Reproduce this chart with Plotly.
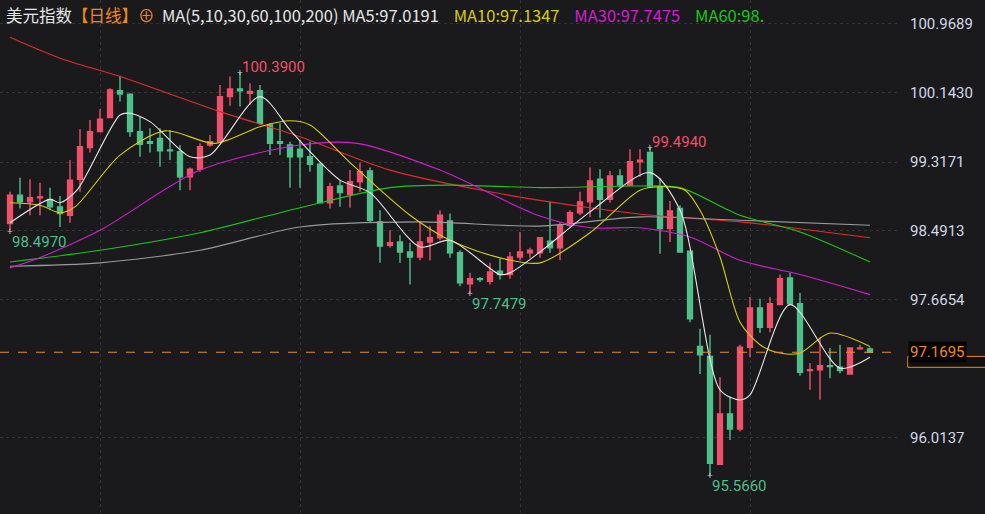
import plotly.graph_objects as go

# daily candles, index 1..87
opens = [98.58, 98.92, 98.84, 98.89, 98.87, 98.78, 98.68, 99.11, 99.49, 99.68,
         99.85, 100.17, 100.13, 99.68, 99.56, 99.60, 99.46, 99.44, 99.14, 99.23,
         99.52, 99.56, 100.10, 100.19, 100.14, 100.17, 99.76, 99.56, 99.52, 99.47,
         99.38, 99.29, 98.83, 99.03, 98.93, 99.08, 99.21, 98.60, 98.32, 98.36,
         98.24, 98.18, 98.36, 98.41, 98.61, 98.23, 97.86, 97.92, 97.89, 98.01,
         97.97, 98.18, 98.23, 98.23, 98.37, 98.29, 98.56, 98.71, 98.84, 99.11,
         98.87, 99.15, 99.04, 99.32, 99.43, 99.02, 98.52, 98.76, 98.25, 97.11,
         96.99, 95.70, 96.30, 96.12, 97.10, 97.57, 97.34, 97.61, 97.93, 97.62,
         96.82, 96.83, 96.88, 96.86, 96.78, 97.08, 97.08]
highs = [98.96, 99.13, 99.11, 99.07, 99.01, 98.91, 99.34, 99.71, 99.82, 99.95,
         100.20, 100.35, 100.14, 99.86, 99.72, 99.72, 99.70, 99.52, 99.25, 99.54,
         99.64, 100.24, 100.34, 100.39, 100.26, 100.24, 99.78, 99.78, 99.56, 99.58,
         99.56, 99.31, 99.07, 99.10, 99.22, 99.31, 99.25, 98.74, 98.50, 98.44,
         98.35, 98.60, 98.55, 98.74, 98.70, 98.26, 97.99, 97.94, 98.11, 98.16,
         98.24, 98.48, 98.29, 98.42, 98.84, 98.60, 98.74, 98.96, 99.25, 99.23,
         99.21, 99.23, 99.47, 99.47, 99.494, 99.13, 98.85, 98.80, 98.25, 97.32,
         97.25, 96.74, 96.51, 97.13, 97.70, 97.68, 97.70, 97.97, 97.99, 97.75,
         96.91, 97.22, 97.09, 97.13, 97.10, 97.13, 97.10]
lows = [98.497, 98.76, 98.68, 98.68, 98.74, 98.54, 98.59, 98.96, 99.43, 99.68,
        99.85, 100.04, 99.62, 99.38, 99.43, 99.26, 99.34, 98.98, 98.98, 99.20,
        99.50, 99.54, 99.99, 99.98, 100.00, 99.76, 99.40, 99.40, 99.01, 99.01,
        99.20, 98.83, 98.76, 98.78, 98.77, 98.96, 98.59, 98.11, 98.29, 98.11,
        97.85, 98.14, 98.14, 98.38, 98.17, 97.83, 97.7479, 97.88, 97.85, 97.91,
        97.92, 98.14, 98.17, 98.17, 98.23, 98.14, 98.54, 98.68, 98.66, 98.65,
        98.83, 99.01, 99.04, 99.14, 99.02, 98.22, 98.36, 98.24, 97.40, 96.78,
        95.566, 95.69, 95.99, 96.09, 96.98, 97.27, 97.28, 97.61, 97.61, 96.76,
        96.59, 96.47, 96.73, 96.79, 96.77, 97.07, 97.03]
closes = [98.92, 98.84, 98.89, 98.90, 98.78, 98.70, 99.10, 99.50, 99.68, 99.83,
          100.18, 100.13, 99.68, 99.53, 99.54, 99.45, 99.45, 99.14, 99.23, 99.50,
          99.56, 100.10, 100.19, 100.17, 100.16, 99.78, 99.54, 99.54, 99.38, 99.38,
          99.29, 98.83, 99.02, 98.95, 99.08, 99.20, 98.62, 98.31, 98.35, 98.24,
          98.18, 98.36, 98.41, 98.68, 98.23, 97.87, 97.92, 97.91, 98.00, 97.97,
          98.18, 98.24, 98.26, 98.41, 98.29, 98.56, 98.71, 98.84, 99.09, 98.87,
          99.15, 99.04, 99.32, 99.34, 99.02, 98.52, 98.73, 98.24, 97.44, 97.01,
          95.71, 96.30, 96.12, 97.10, 97.57, 97.34, 97.62, 97.92, 97.62, 96.80,
          96.83, 96.88, 96.87, 96.82, 97.09, 97.09, 97.04]
days = list(range(1, len(opens) + 1))

# moving averages at sample candles
ma5_x = [1, 5, 6, 7.7, 12, 13, 15, 19, 21, 26, 29, 31, 34, 37, 42, 45, 50, 51, 54, 59, 65, 68, 72, 74, 75, 79, 84, 87]
ma5_y = [98.59, 98.87, 98.83, 98.98, 99.88, 99.90, 99.80, 99.38, 99.40, 100.10, 99.70, 99.44, 99.10, 98.95,
         98.30, 98.38, 97.97, 97.99, 98.24, 98.72, 99.19, 98.74, 96.59, 96.47, 96.53, 97.61, 96.85, 96.98]
ma10_x = [1, 4, 6, 7.5, 12, 16.5, 21.5, 26, 29, 31, 35, 41, 45, 50, 54, 59, 64, 66.5, 68.5, 70, 72, 74, 76, 78, 80, 83, 87]
ma10_y = [98.83, 98.80, 98.71, 98.78, 99.40, 99.69, 99.54, 99.74, 99.81, 99.76, 99.31, 98.68, 98.38, 98.17,
          98.11, 98.47, 98.98, 99.02, 98.98, 98.74, 98.18, 97.40, 97.13, 97.03, 97.03, 97.27, 97.11]
ma30_x = [1, 3.3, 10, 20, 30, 35.7, 44, 54, 59, 64, 69, 74, 80, 87]
ma30_y = [98.05, 98.14, 98.50, 99.22, 99.52, 99.54, 99.22, 98.67, 98.53, 98.53, 98.42, 98.14, 97.97, 97.73]
ma60_x = [1, 10, 20, 30, 39, 45, 54, 64, 68, 74, 80, 87]
ma60_y = [98.12, 98.26, 98.47, 98.77, 99.01, 99.04, 99.01, 99.03, 99.01, 98.68, 98.48, 98.12]
ma100_x = [1, 10, 20, 30, 42, 54, 64, 74, 87]
ma100_y = [98.07, 98.11, 98.26, 98.54, 98.60, 98.55, 98.66, 98.62, 98.56]
ma200_x = [1, 6, 12, 22, 30, 39, 49, 59, 66, 74, 87]
ma200_y = [100.81, 100.56, 100.34, 99.92, 99.62, 99.22, 98.96, 98.77, 98.67, 98.60, 98.41]

tick_vals = [100.9689, 100.1430, 99.3171, 98.4913, 97.6654, 96.0137]
last_price = 97.04

RED = "#f0506a"
GREEN = "#4fbf8c"
BG = "#1a1a1c"

fig = go.Figure()
fig.add_trace(go.Candlestick(
    x=days, open=opens, high=highs, low=lows, close=closes,
    increasing=dict(line=dict(color=RED, width=1.4), fillcolor=RED),
    decreasing=dict(line=dict(color=GREEN, width=1.4), fillcolor=GREEN),
    whiskerwidth=0, showlegend=False, hoverinfo="skip"))

for xs, ys, col in [(ma200_x, ma200_y, "#e32b2b"), (ma100_x, ma100_y, "#9a9a9a"),
                    (ma60_x, ma60_y, "#1fc41f"), (ma30_x, ma30_y, "#d21ed2"),
                    (ma10_x, ma10_y, "#d8cc10"), (ma5_x, ma5_y, "#e8e8e8")]:
    fig.add_trace(go.Scatter(x=xs, y=ys, mode="lines", line=dict(color=col, width=1.1, shape="spline", smoothing=0.8),
                             showlegend=False, hoverinfo="skip"))

fig.add_hline(y=last_price, line=dict(color="#f08a1e", width=1, dash="dash"))

# high / low labels
marks = [(24, 100.39, "100.3900", RED, "above"), (65, 99.494, "99.4940", RED, "above"),
         (1, 98.497, "98.4970", GREEN, "below"), (47, 97.7479, "97.7479", GREEN, "below"),
         (71, 95.566, "95.5660", GREEN, "below")]
for d, v, txt, col, pos in marks:
    fig.add_annotation(x=d, y=v, text=txt, showarrow=False, xanchor="left",
                       yanchor="bottom" if pos == "above" else "top", yshift=-6 if pos == "above" else 0,
                       font=dict(color=col, size=15, family="Roboto"))
    fig.add_annotation(x=d, y=v, text="+", showarrow=False, font=dict(color="#dddddd", size=10))

# right price box
fig.add_shape(type="rect", xref="paper", yref="y", x0=1.012, x1=1.1, y0=96.86, y1=96.99,
              line=dict(color="#f08a1e", width=1), fillcolor="#101010")
fig.add_annotation(xref="paper", x=1.012, y=last_price, text="97.1695", showarrow=False, xanchor="left",
                   bgcolor="#050505", font=dict(color="#f08a1e", size=15, family="Roboto"))

legend = ("美元指数<span style='color:#f08a1e'>【日线】⊕</span>  MA(5,10,30,60,100,200) MA5:97.0191    "
          "<span style='color:#d8cc10'>MA10:97.1347</span>    <span style='color:#d21ed2'>MA30:97.7475</span>    "
          "<span style='color:#1fc41f'>MA60:98.</span>")
fig.add_annotation(xref="paper", yref="paper", x=0, y=1, xshift=4, yshift=-1, text=legend, showarrow=False,
                   xanchor="left", yanchor="top", font=dict(color="#e6e6e6", size=16.5, family="Noto Sans CJK SC"))

fig.update_layout(
    width=985, height=514, margin=dict(l=0, r=88, t=0, b=0),
    paper_bgcolor=BG, plot_bgcolor=BG,
    xaxis=dict(range=[0, 89.7], showticklabels=False, rangeslider=dict(visible=False),
               showgrid=True, gridcolor="#333333", griddash="dot", tickvals=[10, 30, 52, 75], zeroline=False),
    yaxis=dict(range=[95.104, 101.256], side="right", tickvals=tick_vals, ticklabelstandoff=12,
               ticktext=[f"{v:.4f}" for v in tick_vals], showgrid=True, gridcolor="#333333", griddash="dot",
               tickfont=dict(color="#d0d8e8", size=15, family="Roboto"), zeroline=False, ticks=""),
)

fig.write_html("out.html", config={"displayModeBar": False},
               post_script="document.body.style.margin='0';document.body.style.background='#1a1a1c';")
